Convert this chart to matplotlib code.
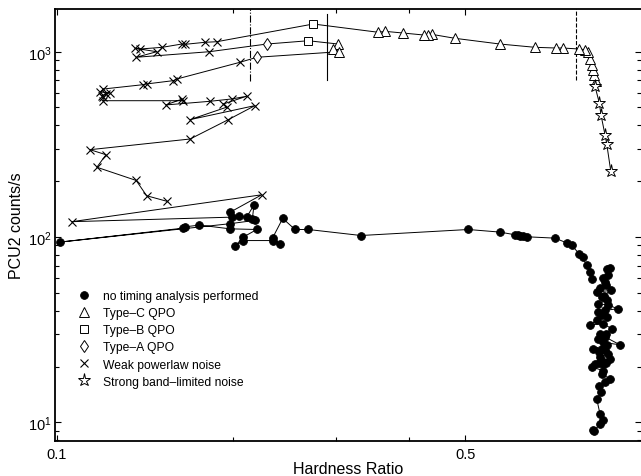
import matplotlib
matplotlib.use('Agg')
import matplotlib.pyplot as plt
from matplotlib.lines import Line2D
from matplotlib.ticker import FixedLocator, NullFormatter

plt.rcParams['font.family'] = ['Liberation Sans', 'DejaVu Sans']
plt.rcParams['mathtext.default'] = 'regular'

# ---------------- data (hardness ratio, PCU2 counts/s, state code) ----------------
# codes: D = no timing, T = Type-C, B = Type-B, A = Type-A, X = weak powerlaw, S = strong BLN
track1_hr = [0.8874, 0.8736, 0.8677, 0.8540, 0.8484, 0.8341,
             0.8374, 0.8309, 0.8267, 0.8235, 0.8180, 0.8125, 0.8013, 0.7841, 0.7343, 0.7151,
             0.6585, 0.5736, 0.4802, 0.4382, 0.4324, 0.4251, 0.3917, 0.3645, 0.3550,
             0.2747,
             0.1877, 0.1792, 0.1657, 0.1635, 0.1514, 0.1387, 0.1360, 0.1482, 0.1366, 0.1823,
             0.2286, 0.2693, 0.3031, 0.2972, 0.3043, 0.2198,
             0.2058, 0.1603, 0.1582, 0.1424, 0.1405, 0.1200, 0.1185, 0.1232, 0.1213, 0.1193,
             0.1200, 0.1200, 0.1646, 0.1640, 0.1535, 0.1828, 0.1992, 0.2112, 0.1926, 0.1952,
             0.1690, 0.2183, 0.1965, 0.1690, 0.1139, 0.1213, 0.1170, 0.1366, 0.1424, 0.1541]
track1_cts = [228, 318, 356, 456, 529, 651,
              698, 749, 797, 848, 913, 1000, 1025, 1034, 1047, 1047,
              1056, 1100, 1181, 1241, 1235, 1230, 1261, 1288, 1273,
              1411,
              1132, 1124, 1096, 1100, 1056, 1034, 1043, 1000, 933, 1000,
              1100, 1146, 1100, 1034, 1000, 933,
              877, 712, 698, 670, 664, 629, 606, 600, 590, 579,
              570, 544, 544, 556, 516, 540, 556, 575, 522, 502,
              430, 512, 430, 338, 296, 278, 238, 202, 167, 156]
track1_type = ('SSSSSS' + 'TTTTTTTTTT' + 'TTTTTTTTT' + 'B' + 'XXXXXXXXXX' +
               'ABTTTA' + 'XXXXXXXXXX' + 'XXXXXXXXXX' + 'XXXXXXXXXX')

track2_hr = [0.1978, 0.2241, 0.1060, 0.1992, 0.2052, 0.2112, 0.2174, 0.2160, 0.2183, 0.1978,
             0.1012, 0.1646, 0.1657, 0.1753, 0.1978, 0.2198, 0.2084, 0.2018, 0.2084, 0.2340,
             0.2409, 0.2340, 0.2435, 0.2556, 0.2693, 0.3315, 0.5061, 0.5736, 0.6086, 0.6150,
             0.6207, 0.6280, 0.6380, 0.7125, 0.7461, 0.7609, 0.7841, 0.7947, 0.8073, 0.8180,
             0.8235]
track2_cts = [136, 169, 121, 128, 130, 128, 149, 125, 123, 118,
              93.9, 111.7, 113.5, 116, 110.7, 109.8, 99.9, 89.3, 95.7, 95.7,
              91.9, 99.0, 126, 109.8, 109.8, 101.9, 109.8, 106.3, 102.8, 102.8,
              101.5, 101.5, 100.3, 98.6, 93.0, 90.0, 81.2, 77.9, 70.2, 64.7,
              59.5]
track2_type = 'DXX' + 'D' * 38

track3_hr = [0.8736, 0.8850, 0.8790, 0.8600, 0.8677, 0.8720, 0.8500, 0.8397, 0.8874, 0.8564,
             0.8650, 0.8736, 0.8451, 0.8780, 0.9123, 0.8677, 0.8451, 0.8580, 0.8736, 0.8397,
             0.8180, 0.8618, 0.8909, 0.8700, 0.8520, 0.8451, 0.8677, 0.9204, 0.8620, 0.8750,
             0.8267, 0.8564, 0.8660, 0.8480, 0.8790, 0.8507, 0.8580, 0.8850, 0.8720, 0.8460,
             0.8341, 0.8618, 0.8235, 0.8620, 0.8564, 0.8850, 0.8680, 0.8484, 0.8550, 0.8397,
             0.8507, 0.8618, 0.8507, 0.8318, 0.8267]
track3_cts = [67.4, 68.0, 62.0, 60, 57.1, 55, 53, 50.5, 51.5, 47.4,
              48, 45.5, 43.6, 43, 41.0, 40.2, 39.4, 38, 37.0, 35.5,
              33.6, 34.0, 32.0, 30, 30, 28.3, 28.9, 26.2, 27, 26,
              25.0, 25.0, 24.5, 24, 23.5, 22.5, 21.5, 22.0, 21, 21,
              20.7, 20.7, 19.9, 19, 18.3, 17.1, 16.5, 15.8, 14.5, 13.4,
              11.1, 10.25, 9.84, 8.99, 9.06]
track3_type = 'D' * 55

# vertical markers: (hardness, counts from, counts to, style)
vline_hr = [0.2141, 0.2896, 0.7729]
vline_lo = [695, 706, 703]
vline_hi = [1700, 1597, 1700]
vline_style = ['-.', '-', '--']

legend_labels = ['no timing analysis performed', 'Type\u2013C QPO', 'Type\u2013B QPO',
                 'Type\u2013A QPO', 'Weak powerlaw noise', 'Strong band\u2013limited noise']

# ---------------- styles ----------------
styles = {
    'D': dict(marker='o', ms=5.6, mfc='k', mec='k', mew=0.6),
    'T': dict(marker='^', ms=6.5, mfc='white', mec='k', mew=0.7),
    'B': dict(marker='s', ms=5.2, mfc='white', mec='k', mew=0.7),
    'A': dict(marker='d', ms=6.3, mfc='white', mec='k', mew=0.7),
    'X': dict(marker='x', ms=5.8, mfc='none', mec='k', mew=0.8),
    'S': dict(marker='*', ms=9.5, mfc='white', mec='k', mew=0.7),
}
order = ['D', 'T', 'B', 'A', 'X', 'S']

fig = plt.figure(figsize=(6.41, 4.77), dpi=100)
ax = fig.add_axes([55 / 641, 35 / 477, 586 / 641, 432 / 477])
ax.set_xscale('log')
ax.set_yscale('log')

tracks = [(track1_hr, track1_cts, track1_type),
          (track2_hr, track2_cts, track2_type),
          (track3_hr, track3_cts, track3_type)]
for hr, cts, tp in tracks:
    ax.plot(hr, cts, '-', color='k', lw=0.7, zorder=2)

for code in order:
    xs, ys = [], []
    for hr, cts, tp in tracks:
        for h, c, t in zip(hr, cts, tp):
            if t == code:
                xs.append(h)
                ys.append(c)
    ax.plot(xs, ys, linestyle='none', zorder=3, **styles[code])

for h, lo, hi, ls in zip(vline_hr, vline_lo, vline_hi, vline_style):
    ax.plot([h, h], [lo, hi], color='k', lw=0.8, linestyle=ls, zorder=1)

ax.set_xlim(0.0992, 1.0)
ax.set_ylim(7.93, 1700)

ax.xaxis.set_major_locator(FixedLocator([0.1, 0.5]))
ax.set_xticklabels(['0.1', '0.5'])
ax.xaxis.set_minor_locator(FixedLocator([0.2, 0.3, 0.4]))
ax.xaxis.set_minor_formatter(NullFormatter())
ax.yaxis.set_major_locator(FixedLocator([10, 100, 1000]))
ax.set_yticklabels(['$10^{1}$', '$10^{2}$', '$10^{3}$'])
ax.yaxis.set_minor_formatter(NullFormatter())

ax.tick_params(which='both', direction='in', top=True, right=True, labelsize=10.5, width=0.8)
ax.tick_params(which='major', length=4.3)
ax.tick_params(which='minor', length=2.8)
ax.tick_params(axis='x', pad=4)
ax.tick_params(axis='y', pad=2.5)

for s in ['left', 'bottom', 'top']:
    ax.spines[s].set_linewidth(1.3)
ax.spines['right'].set_visible(False)

ax.set_xlabel('Hardness Ratio', fontsize=11.5)
ax.xaxis.set_label_coords(0.5, -0.046)
ax.set_ylabel('PCU2 counts/s', fontsize=11.5, labelpad=3)

handles = [Line2D([], [], linestyle='none', **styles[c]) for c in order]
ax.legend(handles, legend_labels, loc='upper left', bbox_to_anchor=(0.040, 0.349),
          frameon=False, fontsize=8.7, handlelength=1.0, handletextpad=1.05,
          labelspacing=0.42, borderpad=0, borderaxespad=0)

fig.savefig('out.png', dpi=100)
